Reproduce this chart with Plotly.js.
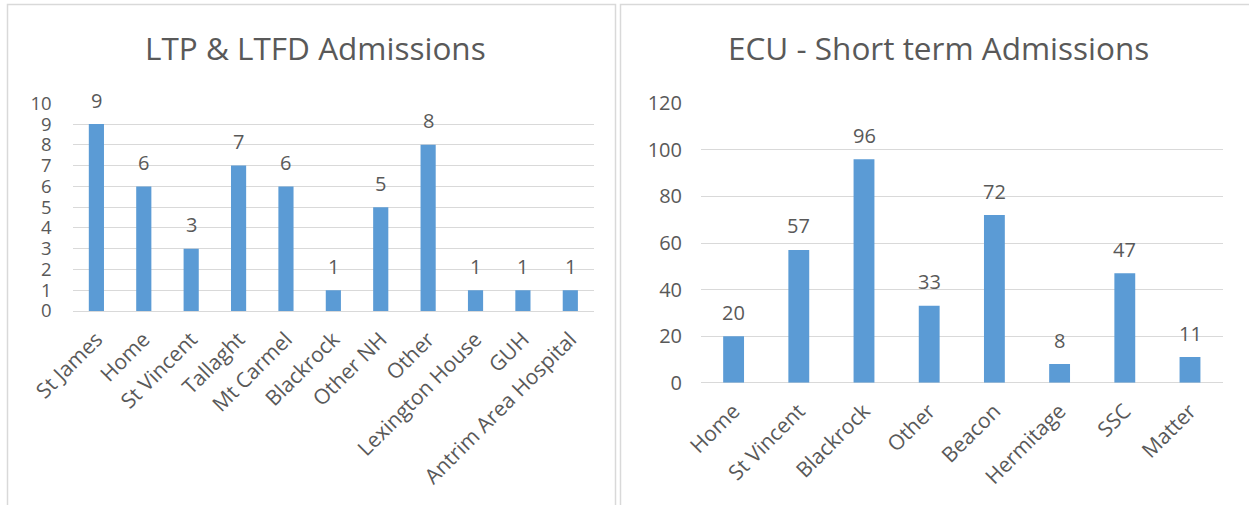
<!DOCTYPE html>
<html>
<head>
<meta charset="utf-8">
<script src="https://cdn.plot.ly/plotly-3.0.1.min.js"></script>
<style>
html,body{margin:0;padding:0;background:#fff;}
#chart{width:1249px;height:505px;}
</style>
</head>
<body>
<div id="chart"></div>
<script>
const ltpTitle = 'LTP & LTFD Admissions';
const ltpCategories = ['St James','Home','St Vincent','Tallaght','Mt Carmel','Blackrock','Other NH','Other','Lexington House','GUH','Antrim Area Hospital'];
const ltpValues = [9,6,3,7,6,1,5,8,1,1,1];

const ecuTitle = 'ECU - Short term Admissions';
const ecuCategories = ['Home','St Vincent','Blackrock','Other','Beacon','Hermitage','SSC','Matter'];
const ecuValues = [20,57,96,33,72,8,47,11];

const W = 1249, H = 505;
const px = v => v / W;
const py = v => 1 - v / H;

const FONT = 'Open Sans, sans-serif';
const TXT = '#595959';
const GRID = '#d9d9d9';
const BAR = '#5b9bd5';

const traces = [
  {type:'bar', x:ltpCategories, y:ltpValues, xaxis:'x', yaxis:'y', marker:{color:BAR}, hoverinfo:'x+y'},
  {type:'bar', x:ecuCategories, y:ecuValues, xaxis:'x2', yaxis:'y2', marker:{color:BAR}, hoverinfo:'x+y'}
];

const labelAnn = (cats, vals, xa, ya) => cats.map((c, i) => ({
  x: c, y: vals[i], xref: xa, yref: ya, text: String(vals[i]), showarrow: false,
  yanchor: 'middle', yshift: 24, font: {family: FONT, size: 20, color: TXT}
}));

const xaxisBase = {
  type:'category', showgrid:false, zeroline:false, showline:false, ticks:'',
  tickangle:-45, tickfont:{family:FONT, size:21, color:TXT}, ticklabelstandoff:11, fixedrange:true
};
const yaxisBase = {
  showgrid:true, gridcolor:GRID, gridwidth:1, zeroline:true, zerolinecolor:GRID, zerolinewidth:1,
  showline:false, ticks:'', tickfont:{family:FONT, size:20, color:TXT}, ticklabelstandoff:18, fixedrange:true
};

const layout = {
  width: W, height: H,
  margin: {l:0, r:0, t:0, b:0},
  paper_bgcolor:'#fff', plot_bgcolor:'#fff',
  showlegend:false, bargap:0.68,
  xaxis: Object.assign({}, xaxisBase, {domain:[px(72.7), px(594)], anchor:'y'}),
  yaxis: Object.assign({}, yaxisBase, {domain:[py(311), py(103.3)], range:[0,10], dtick:1, tick0:0, anchor:'x',
    tickfont:{family:FONT, size:18.5, color:TXT}, ticklabelstandoff:20}),
  xaxis2: Object.assign({}, xaxisBase, {domain:[px(701), px(1222.6)], anchor:'y2'}),
  yaxis2: Object.assign({}, yaxisBase, {domain:[py(382.7), py(103.3)], range:[0,120], dtick:20, tick0:0, anchor:'x2'}),
  shapes: [
    {type:'rect', xref:'paper', yref:'paper', x0:px(7.5), x1:px(615.5), y0:py(520), y1:py(4.5), line:{color:GRID, width:1.5}, fillcolor:'rgba(0,0,0,0)'},
    {type:'rect', xref:'paper', yref:'paper', x0:px(620.5), x1:px(1260), y0:py(520), y1:py(4.5), line:{color:GRID, width:1.5}, fillcolor:'rgba(0,0,0,0)'}
  ],
  annotations: [
    {xref:'paper', yref:'paper', x:px(315.5), y:py(48), text:ltpTitle, showarrow:false, xanchor:'center', yanchor:'middle', font:{family:FONT, size:31.5, color:TXT}},
    {xref:'paper', yref:'paper', x:px(938.5), y:py(48), text:ecuTitle, showarrow:false, xanchor:'center', yanchor:'middle', font:{family:FONT, size:31.5, color:TXT}}
  ].concat(labelAnn(ltpCategories, ltpValues, 'x', 'y'), labelAnn(ecuCategories, ecuValues, 'x2', 'y2'))
};

Plotly.newPlot('chart', traces, layout, {displayModeBar:false, staticPlot:true});
</script>
</body>
</html>
